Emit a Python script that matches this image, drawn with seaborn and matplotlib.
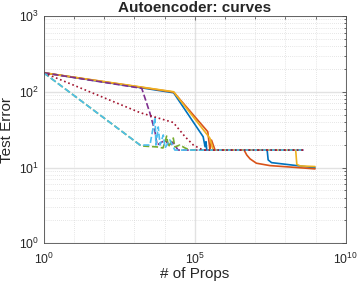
import seaborn as sns
import matplotlib
matplotlib.use("Agg")
import matplotlib.pyplot as plt
import matplotlib.ticker as mticker
import pandas as pd

# values: number of props vs test error, one line per run
blue_x = [1, 2.0e4, 1.9e5, 2.2e5, 2.36e5, 2.5e5, 2.5e7, 2.7e7, 3.5e7, 2.4e8, 9.6e8]
blue_y = [178, 97, 25.5, 18.8, 21.9, 17, 17, 12.6, 11.6, 10.6, 9.9]

orange_x = [1, 2.0e4, 2.7e5, 3.2e5, 3.6e5, 4.7e5, 4.3e6, 5.3e6, 6.8e6, 1.1e7, 3.1e7, 2.4e8, 9.6e8]
orange_y = [178, 99, 29.7, 17, 23, 17, 17, 14.6, 13.0, 11.4, 10.6, 10.0, 9.6]

yellow_x = [1, 2.0e4, 3.2e5, 4.1e5, 2.2e8, 2.4e8, 3.1e8, 9.6e8]
yellow_y = [178, 100, 24.3, 17, 17, 11.0, 10.5, 10.3]

purple_x = [1, 1760, 2570, 3300, 4850, 5650, 1.04e4, 1.5e4, 1.9e4, 2.8e4, 4.2e8]
purple_y = [178, 111, 70.5, 52, 29.7, 19.8, 23, 19.2, 21.7, 17, 17]

green_x = [1, 1550, 1950, 5650, 8900, 1.18e4, 1.34e4, 1.95e4, 2.2e4, 3.2e4, 4.8e4, 6.9e4, 4.2e8]
green_y = [178, 19.8, 19.2, 18.7, 18.1, 26, 18.7, 24.5, 18.7, 19.8, 18.1, 17, 17]

cyan_x = [1, 1550, 3300, 4850, 5200, 6200, 7100, 9100, 1.04e4, 1.5e4, 2.2e4, 4.2e8]
cyan_y = [178, 19.8, 19.8, 46.5, 19.8, 34.3, 19.8, 26.9, 18.1, 23.1, 17, 17]

red_x = [1, 1550, 1.95e4, 4.8e4, 9.0e4, 1.3e5, 1.9e5, 4.2e8]
red_y = [178, 53, 39.3, 25.5, 19.8, 18.3, 17, 17]

series = [
    (blue_x, blue_y, "#0072BD", "-"),
    (orange_x, orange_y, "#D95319", "-"),
    (yellow_x, yellow_y, "#EDB120", "-"),
    (purple_x, purple_y, "#7E2F8E", "--"),
    (green_x, green_y, "#77AC30", "--"),
    (cyan_x, cyan_y, "#4DBEEE", "--"),
    (red_x, red_y, "#A2142F", ":"),
]

sns.set_style("white")
plt.rcParams["font.family"] = ["Liberation Sans", "DejaVu Sans"]
plt.rcParams["mathtext.fontset"] = "custom"
plt.rcParams["mathtext.rm"] = "Liberation Sans"

fig = plt.figure(figsize=(3.6, 2.87), dpi=100)
ax = fig.add_axes([0.1214, 0.1523, 0.839, 0.792])
ax.set_xscale("log")
ax.set_yscale("log")

for x, y, c, ls in series:
    df = pd.DataFrame({"props": x, "err": y})
    sns.lineplot(data=df, x="props", y="err", color=c, linestyle=ls, lw=1.2,
                 sort=False, estimator=None, ax=ax)

ax.set_xlim(1, 1e10)
ax.set_ylim(1, 1e3)
ax.xaxis.set_major_locator(mticker.FixedLocator([1, 1e5, 1e10]))
ax.xaxis.set_minor_locator(mticker.FixedLocator([10.0**k for k in range(1, 10) if k != 5]))
ax.xaxis.set_minor_formatter(mticker.NullFormatter())
ax.yaxis.set_major_locator(mticker.FixedLocator([1, 10, 100, 1000]))
ax.yaxis.set_minor_locator(mticker.LogLocator(base=10, subs=range(2, 10), numticks=20))
ax.yaxis.set_minor_formatter(mticker.NullFormatter())

ax.grid(which="major", color="#e2e2e2", lw=1.0, ls="-")
ax.grid(which="minor", color="#cfcfcf", lw=0.5, ls=(0, (1, 2)))
ax.set_axisbelow(True)

ax.tick_params(which="both", direction="in", top=True, right=True, labelsize=8.8,
               color="0.3", width=0.6)
ax.tick_params(which="major", length=3)
ax.tick_params(which="minor", length=1.8)
ax.tick_params(axis="x", which="major", pad=6)
for s in ax.spines.values():
    s.set_color("0.3")
    s.set_linewidth(0.6)

ax.set_title("Autoencoder: curves", fontsize=11, fontweight="bold", pad=3)
ax.set_xlabel("# of Props", fontsize=11)
ax.set_ylabel("Test Error", fontsize=11)
ax.xaxis.set_label_coords(0.5, -0.105)
ax.yaxis.set_label_coords(-0.1, 0.5)

fig.savefig("out.png", dpi=100)
